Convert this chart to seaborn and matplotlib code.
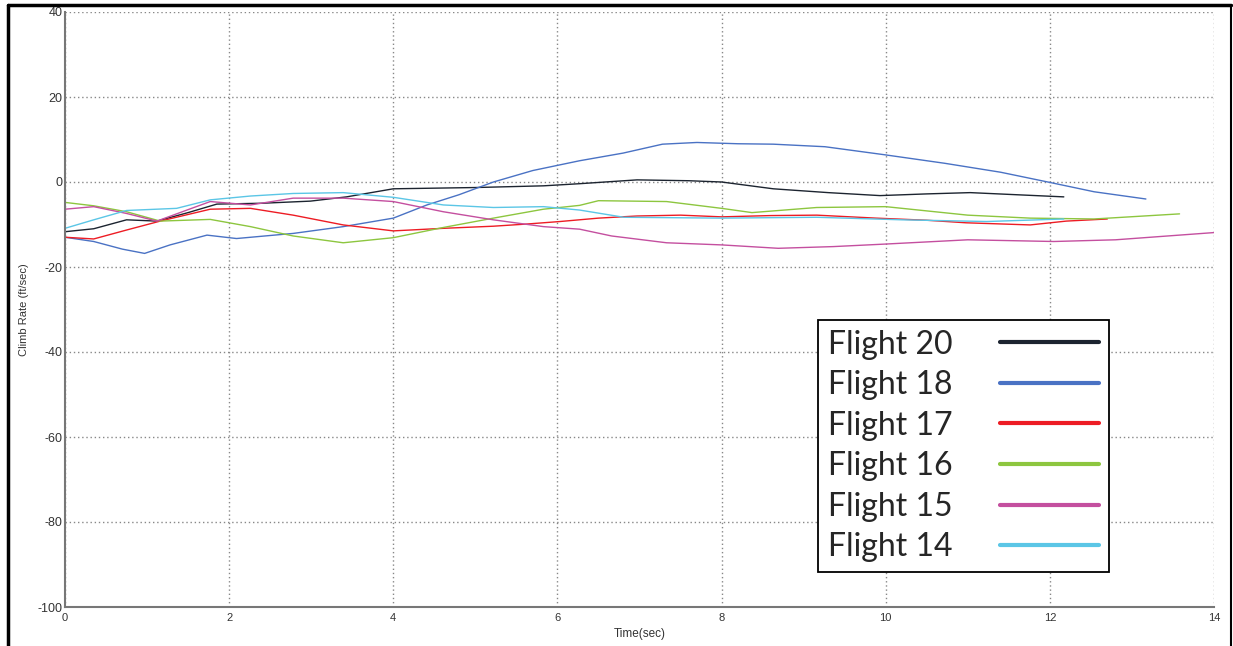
import numpy as np
import pandas as pd
import matplotlib
matplotlib.use("Agg")
import matplotlib.pyplot as plt
from matplotlib.lines import Line2D
import seaborn as sns

# ---- data ----
flights = ["Flight 20", "Flight 18", "Flight 17", "Flight 16", "Flight 15", "Flight 14"]

t20 = [0, 0.35, 0.75, 1.12, 1.5, 1.85, 2.4, 2.99, 3.43, 4.0, 5.0, 5.83, 6.27, 6.97, 7.6, 8.0, 8.63, 9.3, 9.93, 10.5, 11.03, 11.6, 12.17]
v20 = [-11.7, -11.0, -8.9, -9.2, -7.2, -5.2, -5.0, -4.5, -3.5, -1.6, -1.3, -0.9, -0.4, 0.5, 0.3, 0.0, -1.6, -2.5, -3.2, -2.8, -2.5, -3.0, -3.5]

t18 = [0, 0.35, 0.7, 0.97, 1.28, 1.73, 2.09, 2.78, 3.39, 4.0, 4.41, 4.8, 5.22, 5.7, 6.27, 6.8, 7.28, 7.7, 8.2, 8.63, 9.26, 9.99, 10.72, 11.4, 12.0, 12.54, 13.17]
v18 = [-13.0, -14.0, -15.8, -16.8, -14.8, -12.5, -13.3, -12.1, -10.5, -8.5, -5.4, -3.0, 0.0, 2.7, 5.0, 6.8, 8.9, 9.3, 9.0, 8.9, 8.3, 6.4, 4.4, 2.3, -0.1, -2.3, -4.0]

t17 = [0, 0.35, 0.75, 1.16, 1.77, 2.26, 2.78, 3.39, 4.0, 4.61, 5.22, 5.62, 6.03, 6.5, 6.97, 7.5, 8.0, 8.6, 9.16, 9.88, 10.5, 10.98, 11.76, 12.2, 12.7]
v17 = [-13.0, -13.4, -11.3, -9.2, -6.4, -6.2, -7.8, -10.1, -11.5, -10.9, -10.4, -9.9, -9.3, -8.5, -8.0, -7.8, -8.2, -7.9, -7.8, -8.5, -9.0, -9.6, -10.1, -9.2, -8.7]

t16 = [0, 0.35, 0.75, 1.16, 1.77, 2.26, 2.78, 3.39, 4.0, 4.61, 5.22, 5.83, 6.27, 6.5, 7.33, 8.0, 8.37, 9.16, 10.0, 11.0, 11.76, 12.54, 13.58]
v16 = [-4.8, -5.6, -7.0, -9.2, -8.8, -10.5, -12.7, -14.3, -13.1, -10.7, -8.5, -6.4, -5.5, -4.4, -4.6, -6.2, -7.2, -6.0, -5.8, -7.8, -8.5, -8.7, -7.5]

t15 = [0, 0.35, 0.75, 1.12, 1.5, 1.77, 2.26, 2.78, 3.39, 4.0, 4.61, 5.22, 5.83, 6.27, 6.66, 7.33, 8.0, 8.69, 9.36, 10.0, 11.0, 12.05, 12.8, 14.0]
v15 = [-6.4, -5.8, -7.4, -9.2, -6.5, -4.6, -5.4, -3.8, -3.8, -4.6, -7.0, -8.9, -10.5, -11.1, -12.7, -14.3, -14.8, -15.6, -15.2, -14.6, -13.6, -14.0, -13.6, -11.9]

t14 = [0, 0.35, 0.75, 1.36, 1.77, 2.26, 2.78, 3.39, 4.0, 4.61, 5.22, 5.83, 6.27, 6.81, 8.0, 9.16, 10.2, 11.23, 12.17]
v14 = [-10.9, -8.9, -6.7, -6.2, -4.2, -3.3, -2.7, -2.5, -3.6, -5.4, -6.0, -5.8, -6.6, -8.3, -8.5, -8.3, -8.9, -9.3, -8.7]

x_ticks = [0, 2, 4, 6, 8, 10, 12, 14]
y_ticks = [-100, -80, -60, -40, -20, 0, 20, 40]

colors = ["#1c2430", "#4a72c4", "#ed1c24", "#8dc63f", "#c44f9f", "#5bc6e6"]

series = {
    "Flight 20": (t20, v20),
    "Flight 18": (t18, v18),
    "Flight 17": (t17, v17),
    "Flight 16": (t16, v16),
    "Flight 15": (t15, v15),
    "Flight 14": (t14, v14),
}
df = pd.concat(
    [pd.DataFrame({"Time": t, "Rate": v, "Flight": name}) for name, (t, v) in series.items()],
    ignore_index=True,
)

# ---- style ----
sns.set_style("white")
plt.rcParams["font.family"] = ["Liberation Sans", "DejaVu Sans"]

fig = plt.figure(figsize=(12.33, 6.46), dpi=100)
ax = fig.add_axes([65 / 1233, 39 / 646, 1149 / 1233, 595 / 646])

palette = dict(zip(flights, colors))
sns.lineplot(data=df, x="Time", y="Rate", hue="Flight", hue_order=flights,
             palette=palette, estimator=None, sort=False, linewidth=1.0,
             legend=False, ax=ax)

ax.set_xlim(0, 14)
ax.set_ylim(-100, 40)
ax.set_xticks(x_ticks)
ax.set_yticks(y_ticks)
ax.set_xticklabels([str(v) for v in x_ticks], fontsize=8, color="#333333")
ax.set_yticklabels([str(v) for v in y_ticks], fontsize=9, color="#333333")
ax.tick_params(axis="both", direction="in", length=4, width=1.5, color="#777777")
ax.tick_params(axis="x", pad=4)
ax.tick_params(axis="y", pad=2)

ax.grid(True, color="#888888", linestyle=(0, (1, 2)), linewidth=1.0)
for s in ["top", "right"]:
    ax.spines[s].set_visible(False)
for s in ["left", "bottom"]:
    ax.spines[s].set_color("#777777")
    ax.spines[s].set_linewidth(1.5)

ax.set_xlabel("Time(sec)", fontsize=8.5, color="#333333", labelpad=4)
ax.set_ylabel("Climb Rate (ft/sec)", fontsize=8, color="#333333", labelpad=6)

# ---- legend ----
handles = [Line2D([], [], color=c, linewidth=3) for c in colors]
leg = ax.legend(handles, flights, loc="upper left",
                bbox_to_anchor=((818 - 65) / 1149, (607 - 320) / 595),
                borderaxespad=0, markerfirst=False, frameon=True, fancybox=False,
                prop={"family": "Lato", "size": 23}, handlelength=3.1,
                handletextpad=1.5, labelspacing=0.33, borderpad=0.3)
fr = leg.get_frame()
fr.set_edgecolor("black")
fr.set_linewidth(1.3)
fr.set_alpha(1)

# ---- outer frame (left, top, right) ----
fig.add_artist(Line2D([7.5 / 1233, 7.5 / 1233], [0, 1 - 5 / 646], color="black", linewidth=2.5, transform=fig.transFigure))
fig.add_artist(Line2D([7.5 / 1233, 1231 / 1233], [1 - 5 / 646, 1 - 5 / 646], color="black", linewidth=2.5, transform=fig.transFigure))
fig.add_artist(Line2D([1231 / 1233, 1231 / 1233], [0, 1 - 5 / 646], color="black", linewidth=1.5, transform=fig.transFigure))

fig.savefig("out.png", dpi=100)
